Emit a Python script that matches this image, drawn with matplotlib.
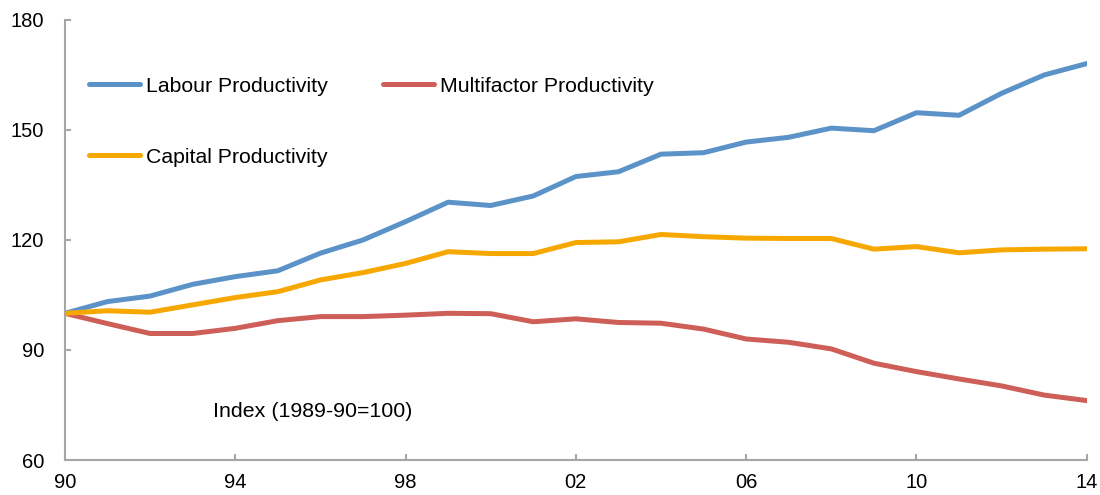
import matplotlib.pyplot as plt

plt.rcParams['font.family'] = ['Liberation Sans', 'DejaVu Sans']

years = list(range(1990, 2015))
year_labels = ['90', '94', '98', '02', '06', '10', '14']

labour = [100, 103.2, 104.7, 107.9, 110.0, 111.6, 116.4, 120.0, 125.0, 130.3,
          129.4, 132.0, 137.3, 138.6, 143.4, 143.8, 146.7, 148.0, 150.5, 149.8,
          154.7, 154.0, 160.0, 165.0, 168.1]
multifactor = [100, 97.2, 94.5, 94.5, 95.9, 98.0, 99.1, 99.1, 99.5, 100.0,
               99.9, 97.7, 98.5, 97.5, 97.3, 95.7, 93.0, 92.1, 90.3, 86.4,
               84.1, 82.1, 80.2, 77.7, 76.2]
capital = [100, 100.7, 100.3, 102.3, 104.3, 105.9, 109.1, 111.1, 113.6, 116.8,
           116.3, 116.3, 119.3, 119.5, 121.5, 120.9, 120.5, 120.4, 120.4, 117.5,
           118.2, 116.5, 117.3, 117.5, 117.6]

fig = plt.figure(figsize=(11, 4.95), dpi=100)
ax = fig.add_axes([0.059, 0.0707, 0.929, 0.889])

l1, = ax.plot(years, labour, color='#5b93c9', lw=3.6, label='Labour Productivity')
l2, = ax.plot(years, multifactor, color='#cd5f58', lw=3.6, label='Multifactor Productivity')
l3, = ax.plot(years, capital, color='#f7a800', lw=3.6, label='Capital Productivity')

ax.set_xlim(1990, 2014)
ax.set_ylim(60, 180)
ax.set_xticks(range(1990, 2015, 4))
ax.set_xticklabels(year_labels)
ax.set_yticks([60, 90, 120, 150, 180])

for s in ['top', 'right']:
    ax.spines[s].set_visible(False)
for s in ['left', 'bottom']:
    ax.spines[s].set_color('#a6a6a6')
    ax.spines[s].set_linewidth(1.5)
ax.tick_params(direction='in', length=4, width=1.5, color='#a6a6a6', labelsize=14.5)
ax.tick_params(axis='y', pad=15)
ax.tick_params(axis='x', pad=9)

leg = ax.legend(handles=[l1, l3, l2], ncol=2, loc='upper left', bbox_to_anchor=(0.024, 0.871),
                frameon=False, fontsize=15.3, borderpad=0, borderaxespad=0,
                handlelength=2.4, handletextpad=0.28, labelspacing=2.45, columnspacing=2.6)
for h in leg.get_lines():
    h.set_solid_capstyle('round')

ax.text(0.145, 0.11, 'Index (1989-90=100)', transform=ax.transAxes,
        fontsize=15.4, va='center', ha='left')

fig.savefig('out.png')
